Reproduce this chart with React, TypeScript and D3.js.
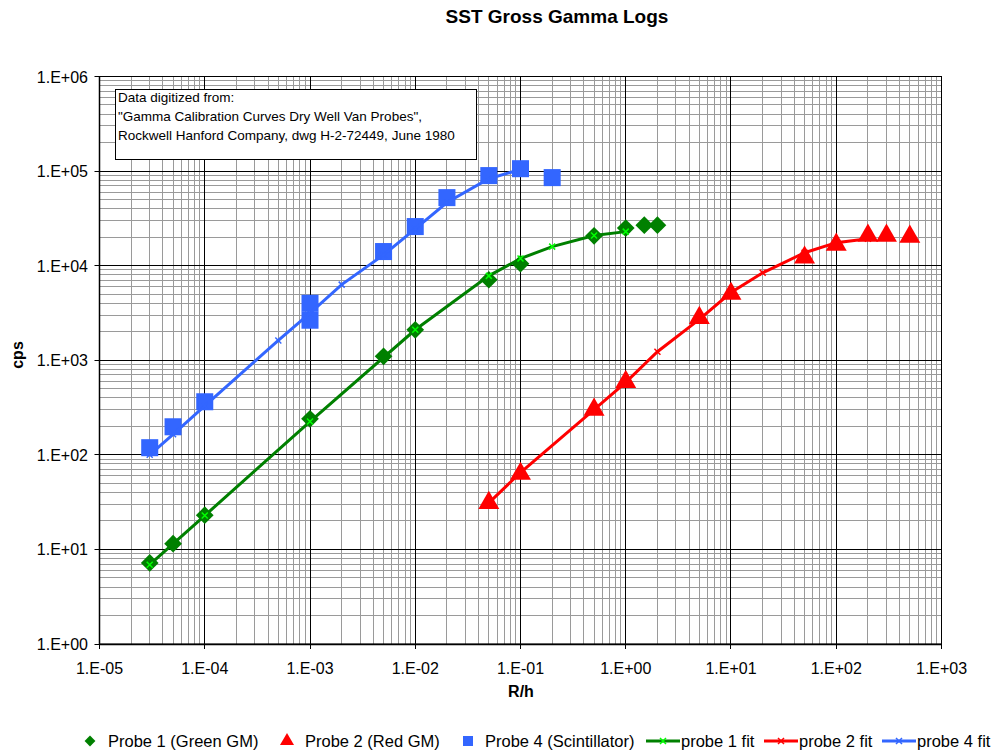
import React from "react";
import * as d3 from "d3";

const W = 996;
const H = 752;

const xMajor = [1e-5, 1e-4, 1e-3, 1e-2, 1e-1, 1e0, 1e1, 1e2, 1e3];
const xLabels = ["1.E-05", "1.E-04", "1.E-03", "1.E-02", "1.E-01", "1.E+00", "1.E+01", "1.E+02", "1.E+03"];
const yMajor = [1e0, 1e1, 1e2, 1e3, 1e4, 1e5, 1e6];
const yLabels = ["1.E+00", "1.E+01", "1.E+02", "1.E+03", "1.E+04", "1.E+05", "1.E+06"];

// Probe 1 (Green GM)
const probe1X = [3e-5, 5e-5, 1e-4, 1e-3, 5e-3, 1e-2, 5e-2, 0.1, 0.5, 1, 1.5, 2];
const probe1Y = [7.2, 11.5, 23, 240, 1100, 2100, 7100, 10500, 20700, 25000, 26800, 26800];
// Probe 2 (Red GM)
const probe2X = [0.05, 0.1, 0.5, 1, 5, 10, 50, 100, 200, 300, 500];
const probe2Y = [31, 63, 300, 590, 2800, 5050, 12200, 16700, 20800, 20800, 20300];
// Probe 4 (Scintillator)
const probe4X = [3e-5, 5e-5, 1e-4, 1e-3, 1e-3, 5e-3, 1e-2, 2e-2, 5e-2, 0.1, 0.2];
const probe4Y = [119, 198, 364, 4000, 2650, 14100, 25900, 52400, 89600, 106000, 85300];
// fits
const fit1X = [3e-5, 1e-4, 1e-3, 1e-2, 5e-2, 0.1, 0.2, 0.5, 1];
const fit1Y = [6.9, 22.8, 225, 2100, 7800, 11900, 15900, 20800, 22900];
const fit2X = [0.05, 0.1, 0.5, 1, 2, 5, 10, 20, 50, 100, 200];
const fit2Y = [31, 65, 300, 585, 1230, 2700, 5200, 8400, 13700, 17500, 19300];
const fit4X = [3e-5, 5e-5, 1e-4, 5e-4, 1e-3, 2e-3, 5e-3, 1e-2, 2e-2, 5e-2, 0.1];
const fit4Y = [100, 165, 330, 1620, 3150, 6300, 13000, 24500, 46500, 83000, 104000];

const legendItems = [
  { label: "Probe 1 (Green GM)", kind: "diamond", color: "#008000", mx: 90, tx: 108 },
  { label: "Probe 2 (Red GM)", kind: "triangle", color: "#FF0000", mx: 287, tx: 305 },
  { label: "Probe 4 (Scintillator)", kind: "square", color: "#3366FF", mx: 468, tx: 485 },
  { label: "probe 1 fit", kind: "line", color: "#008000", marker: "#00FF00", mx: 646, tx: 681 },
  { label: "probe 2 fit", kind: "line", color: "#FF0000", marker: "#FF0000", mx: 764, tx: 799 },
  { label: "probe 4 fit", kind: "line", color: "#3366FF", marker: "#3366FF", mx: 882, tx: 917 },
];

const annotationLines = [
  "Data digitized from:",
  "\"Gamma Calibration Curves Dry Well Van Probes\",",
  "Rockwell Hanford Company, dwg H-2-72449, June 1980",
];

const FONT = "'Liberation Sans', Arial, sans-serif";

const L = 99.5, R = 941.5, T = 76.5, B = 644;

function zip(xs: number[], ys: number[]) {
  return xs.map((x, i) => [x, ys[i]] as [number, number]);
}

function xMark(cx: number, cy: number, s: number, color: string, key: string) {
  return (
    <path key={key} d={`M${cx - s},${cy - s}L${cx + s},${cy + s}M${cx - s},${cy + s}L${cx + s},${cy - s}`} stroke={color} strokeWidth={1.5} fill="none" />
  );
}

export default function App() {
  const x = d3.scaleLog().domain([1e-5, 1e3]).range([L, R]);
  const y = d3.scaleLog().domain([1, 1e6]).range([B, T]);

  const minorX: number[] = [];
  for (let e = -5; e < 3; e++) for (let m = 2; m <= 9; m++) minorX.push(m * Math.pow(10, e));
  const minorY: number[] = [];
  for (let e = 0; e < 6; e++) for (let m = 2; m <= 9; m++) minorY.push(m * Math.pow(10, e));

  const line = d3.line<[number, number]>().x((d) => x(d[0])).y((d) => y(d[1]));
  const snap = (v: number) => Math.round(v - 0.5) + 0.5;

  const diamond = d3.symbol().type(d3.symbolDiamond2).size(200)();
  const triangle = d3.symbol().type(d3.symbolTriangle).size(190)();
  const square = d3.symbol().type(d3.symbolSquare).size(290)();

  const fits = [
    { data: zip(fit1X, fit1Y), color: "#008000", marker: "#00FF00" },
    { data: zip(fit2X, fit2Y), color: "#FF0000", marker: "#FF0000" },
    { data: zip(fit4X, fit4Y), color: "#3366FF", marker: "#3366FF" },
  ];

  return (
    <svg width={W} height={H} style={{ position: "absolute", left: 0, top: 0, background: "#fff" }} fontFamily={FONT}>
      <rect x={0} y={0} width={W} height={H} fill="#fff" />
      {/* minor grid */}
      {minorX.map((v, i) => (
        <line key={"mx" + i} x1={snap(x(v))} x2={snap(x(v))} y1={T} y2={B} stroke="#9a9a9a" strokeWidth={1} />
      ))}
      {minorY.map((v, i) => (
        <line key={"my" + i} x1={L} x2={R} y1={snap(y(v))} y2={snap(y(v))} stroke="#9a9a9a" strokeWidth={1} />
      ))}
      {/* major grid */}
      {xMajor.map((v, i) => (
        <line key={"Mx" + i} x1={snap(x(v))} x2={snap(x(v))} y1={T} y2={B + 5} stroke="#000" strokeWidth={1} />
      ))}
      {yMajor.map((v, i) => (
        <line key={"My" + i} x1={L - 5} x2={R} y1={snap(y(v))} y2={snap(y(v))} stroke="#000" strokeWidth={1} />
      ))}
      <rect x={L} y={T} width={R - L} height={B - T} fill="none" stroke="#000" strokeWidth={1} />
      <line x1={L} x2={R} y1={snap(B)} y2={snap(B)} stroke="#000" strokeWidth={1.5} />
      <line x1={snap(L)} x2={snap(L)} y1={T} y2={B} stroke="#000" strokeWidth={1.5} />

      {/* tick labels */}
      {xMajor.map((v, i) => (
        <text key={"xl" + i} x={x(v)} y={674} textAnchor="middle" fontSize={16} fill="#000">
          {xLabels[i]}
        </text>
      ))}
      {yMajor.map((v, i) => (
        <text key={"yl" + i} x={88} y={y(v) + 6} textAnchor="end" fontSize={16} fill="#000">
          {yLabels[i]}
        </text>
      ))}

      {/* axis titles */}
      <text x={557} y={23} textAnchor="middle" fontSize={19} fontWeight="bold">SST Gross Gamma Logs</text>
      <text x={521} y={697} textAnchor="middle" fontSize={16} fontWeight="bold">R/h</text>
      <text transform="translate(23,355) rotate(-90)" textAnchor="middle" fontSize={16} fontWeight="bold">cps</text>

      {/* annotation */}
      <rect x={115.5} y={89.5} width={361} height={70} fill="#fff" stroke="#000" strokeWidth={1} />
      {annotationLines.map((t, i) => (
        <text key={"an" + i} x={118} y={102 + i * 19} fontSize={13.5} fill="#000">{t}</text>
      ))}

      {/* data markers */}
      {zip(probe1X, probe1Y).map((d, i) => (
        <path key={"p1" + i} d={diamond!} transform={`translate(${x(d[0])},${y(d[1])})`} fill="#008000" />
      ))}
      {zip(probe2X, probe2Y).map((d, i) => (
        <path key={"p2" + i} d={triangle!} transform={`translate(${x(d[0])},${y(d[1])})`} fill="#FF0000" />
      ))}
      {zip(probe4X, probe4Y).map((d, i) => (
        <path key={"p4" + i} d={square!} transform={`translate(${x(d[0])},${y(d[1])})`} fill="#3366FF" />
      ))}

      {/* fit lines */}
      {fits.map((f, k) => (
        <g key={"f" + k}>
          <path d={line(f.data)!} fill="none" stroke={f.color} strokeWidth={3} />
          {f.data.map((d, i) => xMark(x(d[0]), y(d[1]), 3, f.marker, "fm" + k + "_" + i))}
        </g>
      ))}

      {/* legend */}
      {legendItems.map((it, i) => (
        <g key={"lg" + i}>
          {it.kind === "diamond" && (
            <path d={d3.symbol().type(d3.symbolDiamond2).size(75)()!} transform={`translate(${it.mx},741)`} fill={it.color} />
          )}
          {it.kind === "triangle" && (
            <path d={d3.symbol().type(d3.symbolTriangle).size(85)()!} transform={`translate(${it.mx},741)`} fill={it.color} />
          )}
          {it.kind === "square" && (
            <path d={d3.symbol().type(d3.symbolSquare).size(100)()!} transform={`translate(${it.mx},741)`} fill={it.color} />
          )}
          {it.kind === "line" && (
            <g>
              <line x1={it.mx} x2={it.mx + 34} y1={741} y2={741} stroke={it.color} strokeWidth={3} />
              {xMark(it.mx + 17, 741, 3, it.marker!, "lm" + i)}
            </g>
          )}
          <text x={it.tx} y={747} fontSize={16.5} fill="#000">{it.label}</text>
        </g>
      ))}
    </svg>
  );
}
